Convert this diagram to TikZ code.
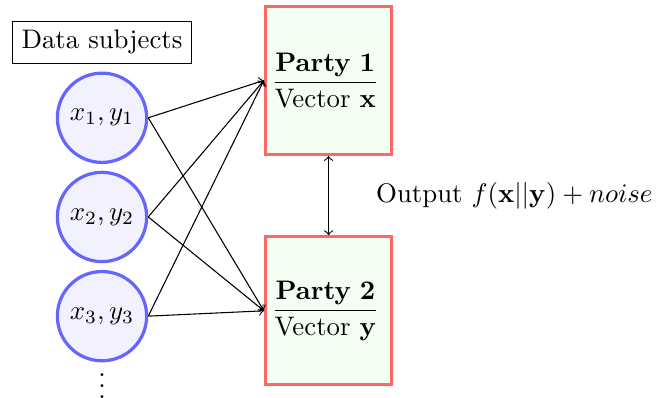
\documentclass[tikz,border=0pt]{standalone}
\usepackage{amssymb}
\usepackage{amsmath}
\usepackage{tikz}
\usetikzlibrary{arrows}
\usetikzlibrary{positioning}
\tikzset{subject/.style={circle, draw=blue!60, fill=blue!5, very thick, minimum size=1.13cm},
party/.style={rectangle, draw=red!60, fill=green!5, very thick, text width=1.5cm, align=left,
  inner sep=2.2pt, minimum height=1.94cm}
}

\begin{document}
\begin{tikzpicture}[> = to, node distance=1.3cm, on grid]
    \useasboundingbox (-1.337,-2.372) rectangle (7.34,2.844);
    \node[subject]          (s_2)                        {$x_2,y_2$};
    \node[subject]          (s_1) [above=of s_2]         {$x_1,y_1$};
    \node[subject]          (s_3) [below=of s_2]         {$x_3,y_3$};
    \node[draw]             (ds)  [above=0.99cm of s_1]  {Data subjects};
    \node                   (dots) [below=0.81cm of s_3] {$\vdots$};
    \node[party]            (p_1) [above right=1.79cm and 2.97cm of s_2]
                                  {$\dfrac{\textbf{Party 1}}{\text{Vector }\mathbf{x}}$};
    \node[party]            (p_2) [below right=1.23cm and 2.97cm of s_2]
                                  {$\dfrac{\textbf{Party 2}}{\text{Vector }\mathbf{y}}$};

    \path[->] (s_1.east) edge (p_1.west)
                         edge (p_2.west)
              (s_2.east) edge (p_1.west)
                         edge (p_2.west)
              (s_3.east) edge (p_1.west)
                         edge (p_2.west);
    \path[<->] (p_1) edge node [right=0.5cm, anchor=west] {Output $f(\mathbf{x}||\mathbf{y}) + noise$} (p_2);
\end{tikzpicture}
\end{document}
